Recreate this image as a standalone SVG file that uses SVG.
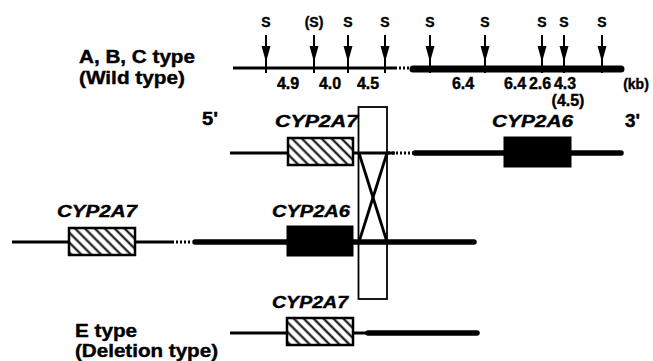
<svg xmlns="http://www.w3.org/2000/svg" xmlns:xlink="http://www.w3.org/1999/xlink" width="653" height="361" viewBox="0 0 653 361">
<style>
text{font-family:"Liberation Sans",Arial,Helvetica,sans-serif;font-weight:bold;fill:#000;stroke:#000;stroke-width:0.4}
.big{font-size:18px}
.gene{font-size:16px;font-style:italic}
.num{font-size:16px;text-anchor:middle}
.s{font-size:14px;text-anchor:middle}
.thin{stroke:#000;stroke-width:3;fill:none}
.thick{stroke:#000;stroke-width:5.5;fill:none;stroke-linecap:round}
.dot{stroke:#000;stroke-width:3;fill:none;stroke-dasharray:2 2}
.hbox{fill:url(#hatch);stroke:#000;stroke-width:2.5}
.bbox{fill:#000;stroke:#000;stroke-width:1}
</style>
<defs>
<pattern id="hatch" patternUnits="userSpaceOnUse" width="7" height="10" patternTransform="rotate(-45)">
<rect x="0" y="0" width="7" height="10" fill="#fff"/>
<line x1="3.5" y1="0" x2="3.5" y2="10" stroke="#000" stroke-width="2"/>
</pattern>
<g id="arr">
<line x1="0" y1="35" x2="0" y2="73" stroke="#000" stroke-width="2"/>
<polygon points="-4.5,46 4.5,46 0,62" fill="#000"/>
</g>
</defs>

<g id="labels">
<text class="big" x="79" y="63" textLength="116" lengthAdjust="spacingAndGlyphs">A, B, C type</text>
<text class="big" x="79" y="84" textLength="106" lengthAdjust="spacingAndGlyphs">(Wild type)</text>
<text class="big" x="75" y="337" textLength="62" lengthAdjust="spacingAndGlyphs">E type</text>
<text class="big" x="75" y="357" textLength="143" lengthAdjust="spacingAndGlyphs">(Deletion type)</text>
<text class="big" x="202" y="125" textLength="16" lengthAdjust="spacingAndGlyphs">5'</text>
<text class="big" x="625" y="127" textLength="15" lengthAdjust="spacingAndGlyphs">3'</text>
</g>

<g id="restriction-map">
<line class="thin" x1="233" y1="68" x2="395" y2="68"/>
<line class="dot" x1="395" y1="68" x2="413" y2="68"/>
<line x1="413" y1="69" x2="621" y2="69" stroke="#000" stroke-width="7" stroke-linecap="round"/>
<use xlink:href="#arr" x="266"/>
<use xlink:href="#arr" x="314"/>
<use xlink:href="#arr" x="348"/>
<use xlink:href="#arr" x="385"/>
<use xlink:href="#arr" x="430"/>
<use xlink:href="#arr" x="485"/>
<use xlink:href="#arr" x="542"/>
<use xlink:href="#arr" x="564"/>
<use xlink:href="#arr" x="602"/>
<text class="s" x="266" y="27">S</text>
<text class="s" x="314" y="27">(S)</text>
<text class="s" x="348" y="27">S</text>
<text class="s" x="385" y="27">S</text>
<text class="s" x="430" y="27">S</text>
<text class="s" x="485" y="27">S</text>
<text class="s" x="542" y="27">S</text>
<text class="s" x="564" y="27">S</text>
<text class="s" x="602" y="27">S</text>
<text class="num" x="288" y="89">4.9</text>
<text class="num" x="330" y="89">4.0</text>
<text class="num" x="368" y="89">4.5</text>
<text class="num" x="463" y="89">6.4</text>
<text class="num" x="515" y="89">6.4</text>
<text class="num" x="540" y="89">2.6</text>
<text class="num" x="565" y="89">4.3</text>
<text class="num" x="568" y="106">(4.5)</text>
<text class="s" x="636" y="89">(kb)</text>
</g>

<g id="connectors">
<line x1="359" y1="153" x2="387" y2="242" stroke="#000" stroke-width="2.8"/>
<line x1="387" y1="153" x2="359" y2="242" stroke="#000" stroke-width="2.8"/>
</g>

<g id="row1">
<line class="thin" x1="230" y1="153" x2="395" y2="153"/>
<line class="dot" x1="388" y1="153" x2="413" y2="153"/>
<line class="thick" x1="415" y1="153" x2="621" y2="153"/>
<rect class="hbox" x="288" y="138" width="65" height="27"/>
<rect class="bbox" x="504" y="137" width="67" height="30"/>
<text class="gene" x="275" y="127" textLength="83" lengthAdjust="spacingAndGlyphs">CYP2A7</text>
<text class="gene" x="492" y="127" textLength="81" lengthAdjust="spacingAndGlyphs">CYP2A6</text>
</g>

<g id="row2">
<line class="thin" x1="12" y1="242" x2="172" y2="242"/>
<line class="dot" x1="172" y1="242" x2="192" y2="242"/>
<line class="thick" x1="195" y1="242" x2="474" y2="242"/>
<rect class="hbox" x="69" y="228" width="66" height="27"/>
<rect class="bbox" x="287" y="226" width="66" height="30"/>
<text class="gene" x="57" y="217" textLength="80" lengthAdjust="spacingAndGlyphs">CYP2A7</text>
<text class="gene" x="272" y="217" textLength="78" lengthAdjust="spacingAndGlyphs">CYP2A6</text>
</g>

<g id="crossover">
<rect x="358.5" y="107" width="28.5" height="192" fill="none" stroke="#000" stroke-width="1.8"/>
</g>

<g id="row3">
<line class="thin" x1="230" y1="333" x2="367" y2="333"/>
<line class="thick" x1="368" y1="333" x2="477" y2="333"/>
<rect class="hbox" x="287" y="318" width="66" height="27"/>
<text class="gene" x="272" y="308" textLength="76" lengthAdjust="spacingAndGlyphs">CYP2A7</text>
</g>
</svg>
